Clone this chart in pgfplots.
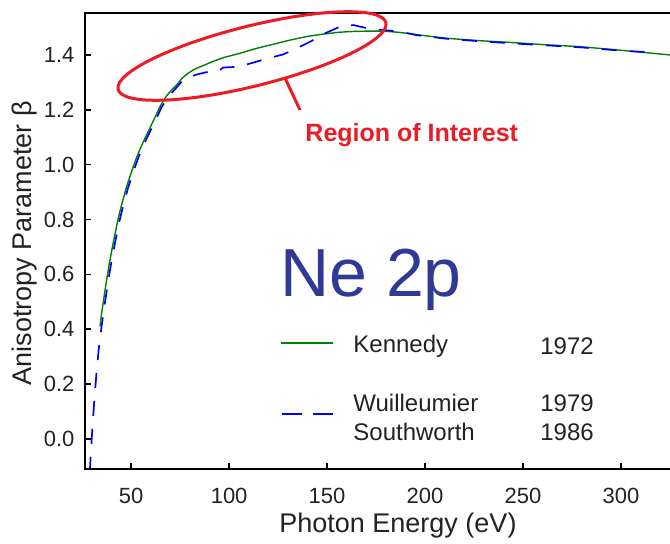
\documentclass[border=0pt]{standalone}
\usepackage{fontspec}
\setmainfont{Liberation Sans}
\usepackage{pgfplots}
\pgfplotsset{compat=1.18}
\definecolor{kgreen}{RGB}{0,128,0}
\definecolor{wblue}{RGB}{0,0,255}
\definecolor{roired}{RGB}{237,28,36}
\definecolor{nenavy}{RGB}{46,58,150}
\definecolor{txt}{RGB}{34,34,34}
\begin{document}
\begin{tikzpicture}
\begin{axis}[
  at={(0,0)}, anchor=south west,
  scale only axis,
  width=292.25pt, height=228pt,
  xmin=26.7, xmax=325,
  ymin=-0.11, ymax=1.553,
  axis line style={draw=none},
  tick pos=left,
  tick align=inside,
  major tick length=2.8pt,
  every tick/.style={black, line width=0.8pt},
  xtick={50,100,150,200,250,300},
  ytick={0,0.2,0.4,0.6,0.8,1.0,1.2,1.4},
  /pgf/number format/assume math mode=true,
  yticklabel style={/pgf/number format/fixed, /pgf/number format/fixed zerofill, /pgf/number format/precision=1, xshift=-2pt},
  ticklabel style={font=\fontsize{11}{13}\selectfont, text=txt},
  xticklabel style={yshift=-6pt},
  xlabel={Photon Energy (eV)},
  ylabel={Anisotropy Parameter β},
  label style={font=\fontsize{13.5}{16}\selectfont, text=txt},
  xlabel style={at={(axis description cs:0.5346,-0.125)}, anchor=center},
  ylabel style={at={(axis description cs:-0.1035,0.4956)}, anchor=center},
  clip=true,
]
% Kennedy 1972
\addplot[kgreen, line width=0.7pt, smooth, tension=0.4] coordinates {
(34.1,0.41) (35,0.46) (36,0.51) (37.5,0.58) (39,0.645) (41,0.72) (43,0.79)
(45,0.85) (47.5,0.915) (50,0.97) (53,1.03) (56,1.08) (59,1.125) (62,1.17)
(65,1.215) (68,1.25) (71,1.275) (73.5,1.293) (76,1.315) (79,1.333) (83,1.35)
(87,1.362) (92,1.377) (98,1.392) (105.5,1.406) (114,1.424) (122.5,1.439)
(131,1.454) (139.6,1.467) (148,1.476) (156.6,1.483) (165,1.486) (173.6,1.487)
(180,1.486) (187.2,1.482) (198,1.472) (211,1.461) (228,1.452) (245,1.445)
(262,1.437) (279,1.43) (300,1.417) (325,1.40)
};
% Wuilleumier 1979 / Southworth 1986
\addplot[wblue, line width=0.85pt, dash pattern=on 7.5pt off 6.5pt] coordinates {
(28.9,-0.12) (29.6,-0.03) (30.4,0.06) (31.3,0.15) (32.3,0.24) (33.5,0.33)
(35,0.415) (36.9,0.51) (38.4,0.58) (39.9,0.645) (41.9,0.72) (43.9,0.79)
(45.9,0.85) (48.4,0.915) (50.9,0.97) (53.9,1.03) (56.9,1.08) (59.9,1.125)
(62.7,1.165) (65.6,1.211) (69.8,1.254) (75.8,1.303) (82.6,1.327) (89.4,1.339)
(94.5,1.341) (97,1.354) (104.7,1.357) (112.3,1.372) (120,1.388) (127.6,1.402)
(134.5,1.424) (142.1,1.451) (148.9,1.479) (156.6,1.503) (163.4,1.509)
(171.9,1.495) (178.7,1.491) (187.2,1.485) (196,1.472) (211,1.459) (228,1.450)
(245,1.442) (262,1.435) (279,1.428) (296,1.418) (313,1.41)
};
\end{axis}
% axis spines (left, bottom, top)
\draw[black, line width=1pt] (292.25pt,0pt) -- (0pt,0pt) -- (0pt,228pt) -- (292.25pt,228pt);
% region of interest ellipse
\draw[roired, line width=1.5pt, rotate around={14:(83.25pt,206.5pt)}] (83.25pt,206.5pt) ellipse [x radius=69pt, y radius=15pt];
\draw[roired, line width=1.5pt] (99.75pt,195.5pt) -- (107.25pt,179.5pt);
\node[anchor=base west, inner sep=0pt, text=roired, font=\bfseries\fontsize{12.5}{15}\selectfont] at (109.8pt,164pt) {Region of Interest};
% Ne 2p
\node[anchor=base west, inner sep=0pt, text=nenavy, font=\fontsize{34}{40}\selectfont] at (97.2pt,86.5pt) {Ne 2p};
% legend
\draw[kgreen, line width=1.35pt] (97.75pt,63pt) -- (123.75pt,63pt);
\draw[wblue, line width=1.35pt, dash pattern=on 10pt off 5.5pt] (98.25pt,27.5pt) -- (123.75pt,27.5pt);
\begin{scope}[every node/.style={anchor=west, inner sep=0pt, text=txt, font=\fontsize{12}{14}\selectfont}]
\node at (133.75pt,61.5pt) {Kennedy};
\node at (227.25pt,61.5pt) {1972};
\node at (133.75pt,33pt) {Wuilleumier};
\node at (227.25pt,33pt) {1979};
\node at (133.75pt,18.5pt) {Southworth};
\node at (227.25pt,18.5pt) {1986};
\end{scope}
\pgfresetboundingbox
\path (-42.75pt,-37pt) rectangle (292.25pt,234.5pt);
\end{tikzpicture}
\end{document}
